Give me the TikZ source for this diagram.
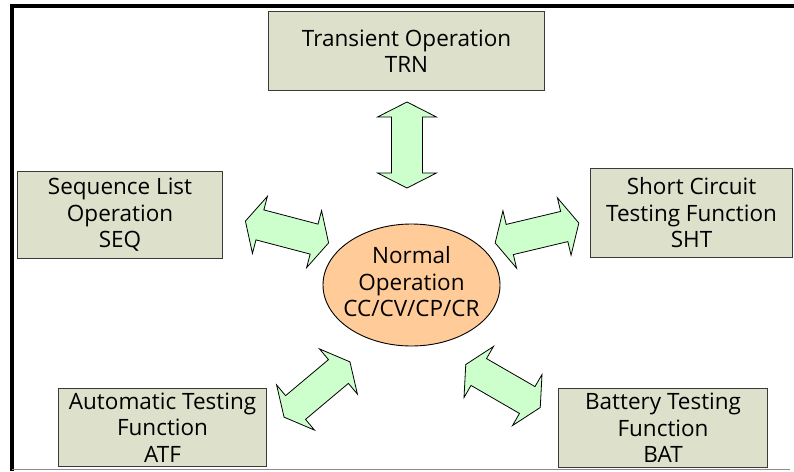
\documentclass[tikz,border=0pt]{standalone}
\usepackage{fontspec}
\setmainfont{Open Sans}
\usetikzlibrary{shapes.geometric}
\definecolor{boxfill}{HTML}{DDE1CB}
\definecolor{boxline}{HTML}{3A3A3A}
\definecolor{peach}{HTML}{FFCC99}
\definecolor{mint}{HTML}{CCFFCC}
\begin{document}
\begin{tikzpicture}[x=1pt,y=1pt,
  lbl/.style={font=\fontsize{22.5}{26.5}\selectfont, align=center, text=black},
  box/.style={lbl, draw=boxline, fill=boxfill, line width=1.1pt, inner sep=0pt, anchor=north west},
  core/.style={ellipse, draw=black, fill=peach, line width=0.9pt, inner sep=0pt},
  arrowbody/.style={draw=black, fill=mint, line width=0.8pt, line join=miter},
  dblarrow/.pic={\path[arrowbody] (-43,0) -- (-28,29.5) -- (-28,15.5) -- (28,15.5)
      -- (28,29.5) -- (43,0) -- (28,-29.5) -- (28,-15.5) -- (-28,-15.5) -- (-28,-29.5) -- cycle;}]
\useasboundingbox (0,0) rectangle (794,-471);
% frame
\draw[line width=4pt, black] (12,-471) -- (12,-6) -- (800,-6);
\draw[line width=1pt, black!45] (12,-469.5) -- (790,-469.5);
% mode boxes
\node[box, minimum width=276, minimum height=79] (trn) at (268,-11) {Transient Operation\\TRN};
\node[box, minimum width=205, minimum height=87] (seq) at (17,-171) {Sequence List\\Operation\\SEQ};
\node[box, minimum width=202, minimum height=89] (sht) at (590,-168) {Short Circuit\\Testing Function\\SHT};
\node[box, minimum width=208, minimum height=78] (atf) at (58,-388) {Automatic Testing\\Function\\ATF};
\node[box, minimum width=209, minimum height=79] (bat) at (558,-388) {Battery Testing\\Function\\BAT};
% block arrows between the modes and normal operation
\pic[rotate=90] (atrn) at (407,-145) {dblarrow};
\pic[rotate=-14.7] (aseq) at (287,-232) {dblarrow};
\pic[rotate=13.4] (asht) at (537,-233) {dblarrow};
\pic[rotate=40] (aatf) at (317,-389.5) {dblarrow};
\pic[rotate=-30] (abat) at (503,-386) {dblarrow};
% central mode: fixed-size ellipse with its label on top
\node[core, minimum width=177, minimum height=122] (norm) at (411.5,-285) {};
\node[lbl] (normtext) at ([yshift=3pt]norm.center) {Normal\\Operation\\CC/CV/CP/CR};
\end{tikzpicture}
\end{document}
